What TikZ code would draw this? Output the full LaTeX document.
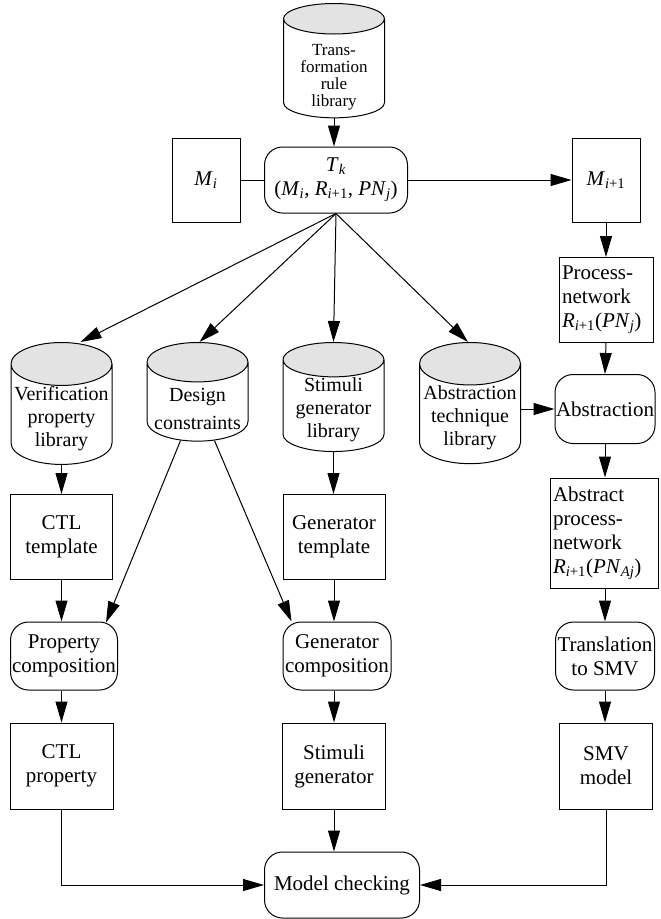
\documentclass[tikz,border=0pt]{standalone}
\usepackage{fontspec}
\setmainfont{Liberation Serif}
\usetikzlibrary{arrows.meta, shapes.geometric, calc}
\newcommand{\libtext}[2][-4pt]{\raisebox{#1}[\height][\depth]{\begin{tabular}{@{}c@{}}#2\end{tabular}}}

\begin{document}
\begin{tikzpicture}[x=1pt, y=-1pt,
    every node/.style={font=\fontsize{21}{24}\selectfont, line width=1pt},
    box/.style={draw, rectangle, align=center, inner sep=2pt},
    rbox/.style={draw, rectangle, rounded corners=18pt, align=center, inner sep=1pt},
    lib/.style={draw, cylinder, shape border rotate=90, aspect=0.455, cylinder uses custom fill,
        cylinder end fill=gray!22, cylinder body fill=white, minimum width=101pt,
        minimum height=67pt, align=center, inner xsep=0pt, inner ysep=-6pt, anchor=north,
        font=\fontsize{20}{23}\selectfont}]
            \tikzset{arr/.style={line width=1pt, -{Triangle[length=21pt, width=12pt]}}}
            \useasboundingbox (0,0) rectangle (661,919);
            \node[lib, inner ysep=0pt, minimum height=84pt, font=\fontsize{17}{17}\selectfont] (trl) at (334,3) {\libtext[-9pt]{Trans-\\formation\\rule\\library}};
            \node[rbox, minimum width=143pt, minimum height=66pt] (tk) at (336,180) {\textit{T}\textsubscript{\textit{k}}\\(\textit{M}\textsubscript{\textit{i}}, \textit{R}\textsubscript{\textit{i}+1}, \textit{PN}\textsubscript{\textit{j}})};
            \node[box, minimum width=68pt, minimum height=84pt] (mi) at (206,180) {\textit{M}\textsubscript{\textit{i}}};
            \node[box, minimum width=68pt, minimum height=84pt] (mnext) at (606,180) {\textit{M}\textsubscript{\textit{i}+1}};
            \node[box, align=left, inner sep=3pt, text width=88pt, minimum height=85pt] (pn) at (606,300) {Process-\\network\\\textit{R}\textsubscript{\textit{i}+1}(\textit{PN}\textsubscript{\textit{j}})};
            \node[lib] (vpl) at (61.5,342) {\libtext{Verification\\property\\library}};
            \node[lib] (dc) at (197.5,342) {\libtext[-9pt]{Design\\[5pt]constraints}};
            \node[lib] (sgl) at (333.5,342) {\libtext{Stimuli\\generator\\library}};
            \node[lib] (atl) at (470,342) {\libtext{Abstraction\\technique\\library}};
            \node[rbox, minimum width=100pt, minimum height=69pt] (abs) at (605,409) {Abstraction};
            \node[box, align=left, inner sep=3pt, text width=102pt, minimum height=110pt] (apn) at (604,533) {Abstract\\process-\\network\\\textit{R}\textsubscript{\textit{i}+1}(\textit{PN}\textsubscript{\textit{Aj}})};
            \node[box, minimum width=102pt, minimum height=85pt] (ctlt) at (61.5,537) {CTL\\template};
            \node[box, minimum width=102pt, minimum height=85pt] (gent) at (334,537) {Generator\\template};
            \node[rbox, minimum width=107pt, minimum height=68pt] (pc) at (64,656) {Property\\composition};
            \node[rbox, minimum width=108pt, minimum height=68pt] (gc) at (337,656) {Generator\\composition};
            \node[rbox, minimum width=99pt, minimum height=68pt] (tsmv) at (605,656) {Translation\\to SMV};
            \node[box, minimum width=103pt, minimum height=86pt] (ctlp) at (61.5,766) {CTL\\property};
            \node[box, minimum width=103pt, minimum height=86pt] (sg) at (334,766) {Stimuli\\generator};
            \node[box, minimum width=93pt, minimum height=86pt] (smv) at (606,766) {SMV\\model};
            \node[rbox, minimum width=155pt, minimum height=66pt] (mc) at (342,885) {Model checking};
            \draw[arr] (trl.south) -- (trl.south |- tk.north);
            \draw[line width=1pt] (mi.east) -- (tk.west);
            \draw[arr] (tk.east) -- (mnext.west);
            \draw[arr] (tk.south) -- ($(vpl.north)+(19,0)$);
            \draw[arr] (tk.south) -- ($(dc.north)+(2,0)$);
            \draw[arr] (tk.south) -- (sgl.north);
            \draw[arr] (tk.south) -- ($(atl.north)+(-2,0)$);
            \draw[arr] (mnext.south) -- (pn.north);
            \draw[arr] (pn.south) -- (abs.north);
            \draw[arr] (abs.west -| atl.east) -- (abs.west);
            \draw[arr] (abs.south) -- (abs.south |- apn.north);
            \draw[arr] (tsmv.north |- apn.south) -- (tsmv.north);
            \draw[arr] (tsmv.south) -- (tsmv.south |- smv.north);
            \draw[arr] (vpl.south) -- (vpl.south |- ctlt.north);
            \draw[arr] (ctlt.south) -- (ctlt.south |- pc.north);
            \draw[arr] ($(dc.south)+(-17,-1)$) -- ($(pc.north east)+(-12,1)$);
            \draw[arr] ($(dc.south)+(17,-1)$) -- ($(gc.north west)+(9,0)$);
            \draw[arr] (sgl.south) -- (sgl.south |- gent.north);
            \draw[arr] (gent.south) -- (gent.south |- gc.north);
            \draw[arr] (ctlp.north |- pc.south) -- (ctlp.north);
            \draw[arr] (sg.north |- gc.south) -- (sg.north);
            \draw[arr] (ctlp.south) |- (mc.west);
            \draw[arr] (smv.south) |- (mc.east);
            \draw[arr] (sg.south) -- (sg.south |- mc.north);
        \end{tikzpicture}
\end{document}
